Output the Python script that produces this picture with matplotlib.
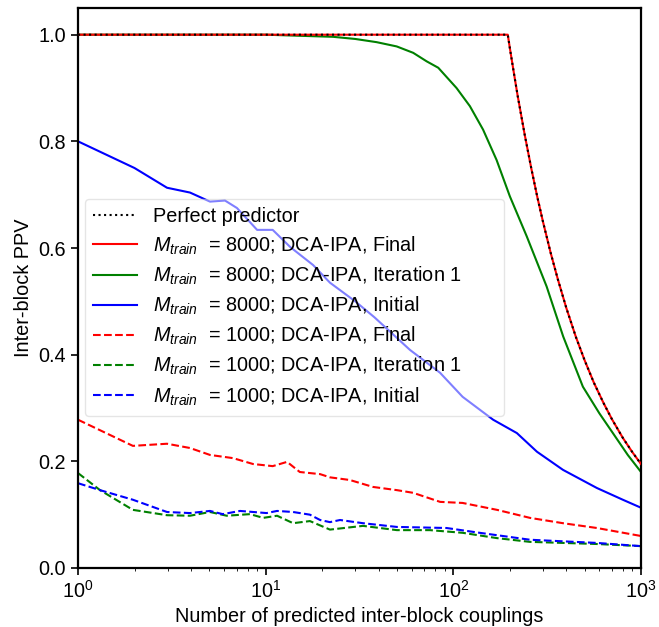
import numpy as np
import matplotlib
matplotlib.use("Agg")
import matplotlib.pyplot as plt

plt.rcParams['font.family'] = ['Liberation Sans', 'DejaVu Sans']
plt.rcParams['mathtext.fontset'] = 'custom'
plt.rcParams['mathtext.rm'] = 'Liberation Sans'
plt.rcParams['mathtext.it'] = 'Liberation Sans:italic'
plt.rcParams['font.size'] = 14.3

# values
perfect_x = [1, 195, 200, 210, 220, 240, 260, 280, 300, 330, 360, 400, 450, 500, 560, 630, 700, 800, 900, 1000]
perfect_y = [1.0, 1.0, 0.975, 0.929, 0.886, 0.8125, 0.75, 0.696, 0.65, 0.591, 0.542, 0.4875, 0.433, 0.39,
             0.348, 0.31, 0.279, 0.244, 0.217, 0.195]

green_x = [1, 10, 15, 22.9, 30, 39, 49.9, 61.1, 72.1, 83.1, 104, 122.5, 144, 170, 200, 246, 314, 385, 490,
           600, 708, 850, 1000]
green_y = [1.0, 1.0, 0.998, 0.996, 0.992, 0.986, 0.978, 0.966, 0.95, 0.938, 0.90, 0.866, 0.822, 0.765, 0.697,
           0.622, 0.528, 0.434, 0.34, 0.29, 0.253, 0.212, 0.18]

blue_x = [1, 2, 2.98, 3.95, 5.05, 6.07, 7.03, 9.0, 10.9, 13.5, 17.9, 22, 30, 38, 58.7, 85, 112, 163, 218, 279,
          384, 582, 800, 1000]
blue_y = [0.80, 0.75, 0.713, 0.704, 0.687, 0.689, 0.675, 0.634, 0.634, 0.602, 0.568, 0.535, 0.50, 0.47, 0.409,
          0.366, 0.321, 0.278, 0.253, 0.218, 0.184, 0.150, 0.128, 0.113]

red1k_x = [1, 1.96, 2.98, 3.95, 5.05, 6.7, 8.56, 10.9, 13.0, 15.2, 19.5, 22, 28.1, 37.3, 50, 61, 85, 112, 171,
           256, 384, 582, 1000]
red1k_y = [0.278, 0.229, 0.233, 0.225, 0.212, 0.206, 0.195, 0.191, 0.199, 0.180, 0.176, 0.170, 0.165, 0.152,
           0.146, 0.141, 0.124, 0.122, 0.109, 0.094, 0.084, 0.075, 0.060]

green1k_x = [1, 1.31, 1.96, 2.98, 3.95, 5.05, 6.2, 8.25, 9.7, 11.5, 14.0, 17.2, 22, 33, 50, 75, 112, 171, 256,
             582, 1000]
green1k_y = [0.178, 0.146, 0.109, 0.099, 0.098, 0.105, 0.098, 0.101, 0.094, 0.098, 0.084, 0.088, 0.072, 0.079,
             0.071, 0.071, 0.066, 0.056, 0.049, 0.045, 0.041]

blue1k_x = [1, 1.31, 1.96, 2.98, 3.95, 5.05, 5.9, 7.3, 10.1, 11.5, 14, 17.2, 19.5, 22, 24.9, 33, 50, 92, 138,
            256, 582, 1000]
blue1k_y = [0.159, 0.146, 0.128, 0.105, 0.103, 0.107, 0.101, 0.107, 0.103, 0.107, 0.105, 0.100, 0.090, 0.086,
            0.090, 0.084, 0.077, 0.075, 0.066, 0.053, 0.047, 0.041]

fig = plt.figure(figsize=(6.59, 6.27), dpi=100)
ax = fig.add_axes([0.1184, 0.0941, 0.8543, 0.8931])

lw = 1.5
ax.plot(perfect_x, perfect_y, color='red', lw=lw, label='$M_{train}$  = 8000; DCA-IPA, Final', zorder=3)
ax.plot(green_x, green_y, color='green', lw=lw, label='$M_{train}$  = 8000; DCA-IPA, Iteration 1       ')
ax.plot(blue_x, blue_y, color='blue', lw=lw, label='$M_{train}$  = 8000; DCA-IPA, Initial')
ax.plot(red1k_x, red1k_y, color='red', ls='--', lw=lw, label='$M_{train}$  = 1000; DCA-IPA, Final')
ax.plot(green1k_x, green1k_y, color='green', ls='--', lw=lw, label='$M_{train}$  = 1000; DCA-IPA, Iteration 1')
ax.plot(blue1k_x, blue1k_y, color='blue', ls='--', lw=lw, label='$M_{train}$  = 1000; DCA-IPA, Initial')
ax.plot(perfect_x, perfect_y, color='black', ls=':', lw=lw, label='Perfect predictor', zorder=4)

ax.set_xscale('log')
ax.set_xlim(1, 1000)
ax.set_ylim(0, 1.05)
ax.set_yticks([0.0, 0.2, 0.4, 0.6, 0.8, 1.0])
ax.set_xlabel('Number of predicted inter-block couplings')
ax.set_ylabel('Inter-block PPV')
for s in ax.spines.values():
    s.set_linewidth(1.6)
ax.tick_params(which='major', width=1.2, length=5)

handles, labels = ax.get_legend_handles_labels()
order = [6, 0, 1, 2, 3, 4, 5]
ax.legend([handles[i] for i in order], [labels[i] for i in order],
          loc='lower left', bbox_to_anchor=(0.013, 0.272), borderaxespad=0,
          framealpha=0.5, handlelength=2.2, labelspacing=0.4)

fig.savefig('out.png', dpi=100)
